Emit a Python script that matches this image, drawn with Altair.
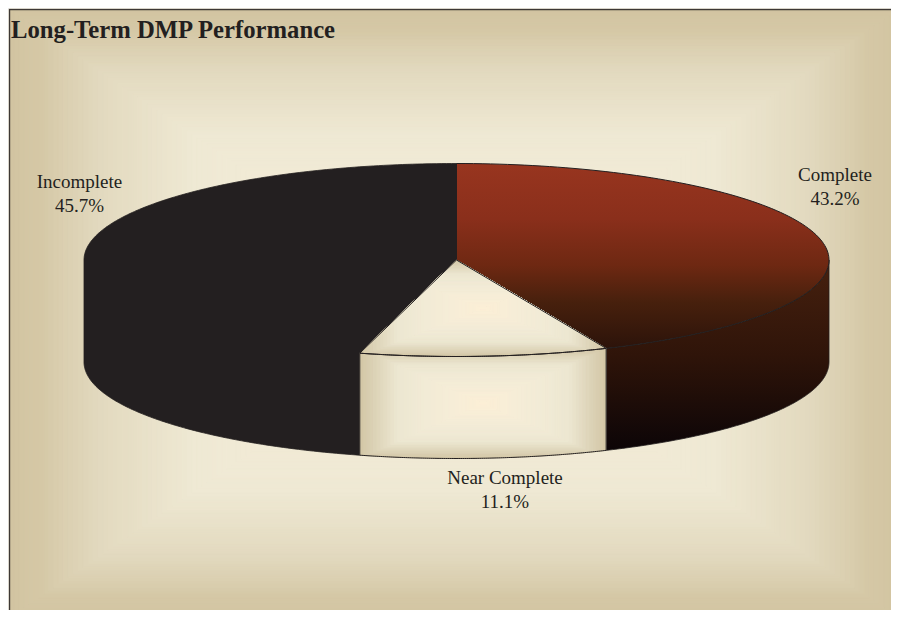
import numpy as np
import pandas as pd
import altair as alt

# --- values -------------------------------------------------------------
categories = ["Complete", "Near Complete", "Incomplete"]
share_labels = ["43.2%", "11.1%", "45.7%"]
drawn_shares = [43.42, 10.76, 45.82]

# --- styling --------------------------------------------------------------
W, H = 883, 602            # what fits inside the window
FW, FH = 891, 610          # the frame of the backdrop, which runs to the window's edge
CX, CY, RX, RY, DEPTH = 448.5, 252.0, 372.5, 96.5, 102.0
INK = "#231f20"
BG_STOPS = [(0, "#d2c4a1"), (.07, "#d5c8a6"), (.2, "#e2d9be"), (.42, "#efe9d4"), (.7, "#f3ecd7"), (1, "#f8eed8")]
CREAM_STOPS = [(0, "#d3c7a5"), (.12, "#dcd2b6"), (.3, "#ece6d0"), (.45, "#f0ead5"), (.75, "#f6edd7"), (1, "#fcefd6")]
PROJ = dict(type="identity", scale=1, translate=[0, 0])


def hex2rgb(h):
    return np.array([int(h[i:i + 2], 16) for i in (1, 3, 5)], float)


def ramp(stops, t):
    ts = [s[0] for s in stops]
    cols = np.array([hex2rgb(s[1]) for s in stops])
    rgb = [np.interp(t, ts, cols[:, k]) for k in range(3)]
    return "#%02x%02x%02x" % tuple(int(round(v)) for v in rgb)


def pt(theta, dy=0.0):
    return (CX + RX * np.sin(theta), CY - RY * np.cos(theta) + dy)


def arc(a, b, dy=0.0, n=120):
    return [pt(t, dy) for t in np.linspace(a, b, n)]


def clip(poly, x0, y0, x1, y1):
    def run(pts, inside, cross):
        out = []
        for i, p in enumerate(pts):
            q = pts[(i + 1) % len(pts)]
            if inside(p):
                out.append(p)
            if inside(p) != inside(q):
                out.append(cross(p, q))
        return out

    def vx(v):
        return lambda p, q: (v, p[1] + (q[1] - p[1]) * (v - p[0]) / (q[0] - p[0]))

    def hy(v):
        return lambda p, q: (p[0] + (q[0] - p[0]) * (v - p[1]) / (q[1] - p[1]), v)

    for inside, cross in [
        (lambda p: p[0] >= x0, vx(x0)),
        (lambda p: p[0] <= x1, vx(x1)),
        (lambda p: p[1] >= y0, hy(y0)),
        (lambda p: p[1] <= y1, hy(y1)),
    ]:
        if not poly:
            return []
        poly = run(poly, inside, cross)
    return poly


def feature(poly, color="none"):
    ring = [[float(x), float(y)] for x, y in poly]
    ring.append(ring[0])
    return {"type": "Feature", "properties": {"c": color},
            "geometry": {"type": "Polygon", "coordinates": [ring]}}


def rings(poly, box, stops, n):
    x0, y0, x1, y1 = box
    hw, hh = (x1 - x0) / 2, (y1 - y0) / 2
    feats = []
    for i in range(n):
        t = i / n
        p = clip(poly, x0 + t * hw, y0 + t * hh, x1 - t * hw, y1 - t * hh)
        if len(p) >= 3:
            feats.append(feature(p, ramp(stops, (i + .5) / n)))
    return feats


def geo(features):
    return alt.Chart(alt.Data(values=features))


def banded(features):
    return geo(features).mark_geoshape(strokeWidth=0.6).encode(
        color=alt.Color("properties.c:N", scale=None),
        stroke=alt.Stroke("properties.c:N", scale=None),
    ).project(**PROJ)


def vgrad(stops):
    return alt.Gradient(gradient="linear", x1=0, y1=0, x2=0, y2=1,
                        stops=[alt.GradientStop(offset=o, color=c) for o, c in stops])


# slice edges
fr = np.cumsum([0] + drawn_shares) / sum(drawn_shares) * 2 * np.pi
a0, a1, a2, a3 = fr
apex = (CX, CY)

top_complete = [apex] + arc(a0, a1)
top_near = [apex] + arc(a1, a2)
side_complete = arc(a1, np.pi / 2) + arc(np.pi / 2, a1, DEPTH)
side_near = arc(a1, a2) + arc(a2, a1, DEPTH)
# the dark slice has no visible seam: one outline for its top and side
whole_incomplete = [apex] + arc(a2, 1.5 * np.pi, DEPTH) + arc(1.5 * np.pi, a3)

# backdrop
frame = [(1, 1), (FW, 1), (FW, FH), (1, FH)]
backdrop = banded(rings(frame, (1, 1, FW, FH), BG_STOPS, 90))
border = geo([feature([(1, 1), (FW, 1), (FW, 2.2), (1, 2.2)]),
              feature([(1, 1), (2.2, 1), (2.2, FH), (1, FH)])]) \
    .mark_geoshape(fill="#3d3835", strokeWidth=0).project(**PROJ)

# slices
inc = geo([feature(whole_incomplete)]) \
    .mark_geoshape(fill=INK, stroke=INK, strokeWidth=0.8).project(**PROJ)
cmp_side = geo([feature(side_complete)]).mark_geoshape(
    fill=vgrad([(0, "#47210f"), (.5, "#2f1409"), (1, "#0c0507")]),
    stroke=INK, strokeWidth=0.8).project(**PROJ)
cmp_top = geo([feature(top_complete)]).mark_geoshape(
    fill=vgrad([(0, "#98351f"), (.3, "#8a2f1b"), (.55, "#6e2812"), (.75, "#47200d"), (1, "#2c130a")]),
    stroke=INK, strokeWidth=1).project(**PROJ)

bb = lambda poly: (min(p[0] for p in poly), min(p[1] for p in poly),
                   max(p[0] for p in poly), max(p[1] for p in poly))
near_side = banded(rings(side_near, bb(side_near), CREAM_STOPS, 36))
near_top = banded(rings(top_near, bb(top_near), CREAM_STOPS, 36))
near_line = geo([feature(top_near), feature(side_near)]) \
    .mark_geoshape(filled=False, stroke=INK, strokeWidth=1).project(**PROJ)

# labels
label_centres = {"Complete": (827, 167), "Near Complete": (497, 470), "Incomplete": (71.5, 174)}
LINE = 23.5
text_layers = []
for name, pct in zip(categories, share_labels):
    lx, ly = label_centres[name]
    for r, txt in enumerate([name, pct]):
        text_layers.append(
            alt.Chart(pd.DataFrame({"t": [txt]})).mark_text(
                font="Liberation Serif", fontSize=19, color=INK, align="center", baseline="middle"
            ).encode(x=alt.value(lx), y=alt.value(ly + LINE * r), text="t:N")
        )

chart = alt.layer(
    backdrop, border, inc, cmp_side, cmp_top, near_side, near_top, near_line, *text_layers
).properties(
    width=W, height=H, padding=0, autosize=alt.AutoSizeParams(type="none"),
    title=alt.TitleParams(
        "Long-Term DMP Performance", anchor="start", orient="top", frame="group",
        font="Liberation Serif", fontSize=24.7, fontWeight="bold", color=INK,
        align="left", baseline="middle", dx=3, dy=48, offset=0, zindex=1,
    ),
).configure_view(stroke=None).configure(background="white")

chart.save("out.html", embed_options={"renderer": "svg", "actions": False})
